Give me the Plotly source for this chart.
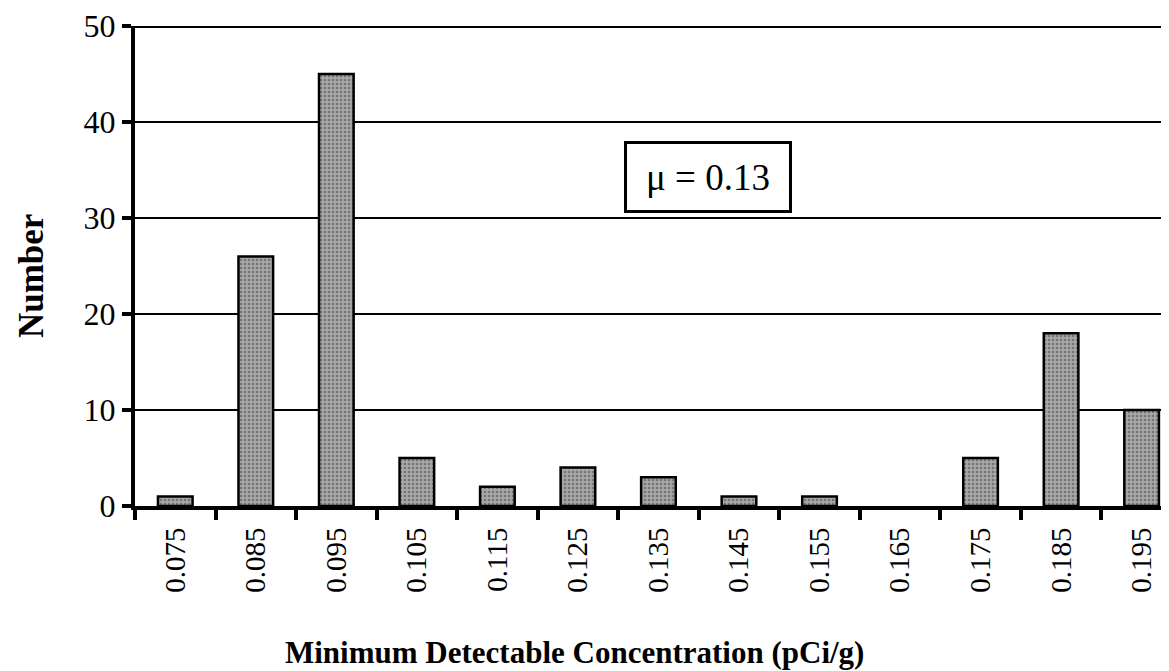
import plotly.graph_objects as go

categories = ["0.075", "0.085", "0.095", "0.105", "0.115", "0.125", "0.135",
              "0.145", "0.155", "0.165", "0.175", "0.185", "0.195"]
counts = [1, 26, 45, 5, 2, 4, 3, 1, 1, 0, 5, 18, 10]
y_ticks = [0, 10, 20, 30, 40, 50]
mean_label = "μ = 0.13"
x_title = "Minimum Detectable Concentration (pCi/g)"
y_title = "Number"

FONT = "Liberation Serif, Times New Roman, serif"

fig = go.Figure(go.Bar(
    x=categories, y=counts,
    marker=dict(
        color="#a0a0a0",
        line=dict(color="black", width=[0 if c == 0 else 2.5 for c in counts]),
        pattern=dict(shape=".", fgcolor="#404040", bgcolor="#a8a8a8",
                     size=4, solidity=0.35),
    ),
    width=0.43,
))

fig.update_layout(
    width=1161, height=663,
    margin=dict(l=127, r=0, t=18, b=165),
    paper_bgcolor="white", plot_bgcolor="white",
    showlegend=False,
    font=dict(family=FONT, color="black", size=29),
    xaxis=dict(
        type="category", categoryorder="array", categoryarray=categories,
        range=[-0.5, 12.34],
        tickson="boundaries", ticks="outside", ticklen=10, tickwidth=4,
        tickcolor="black", tickangle=-90, ticklabelstandoff=6,
        tickfont=dict(family=FONT, size=29),
        showline=True, linecolor="black", linewidth=4,
        showgrid=False, zeroline=False,
    ),
    yaxis=dict(
        range=[0, 50], tickvals=y_ticks,
        ticks="outside", ticklen=9, tickwidth=4, tickcolor="black",
        tickfont=dict(family=FONT, size=32),
        showline=True, linecolor="black", linewidth=4,
        showgrid=True, gridcolor="black", gridwidth=2,
        zeroline=False,
    ),
    shapes=[dict(type="line", xref="paper", yref="y", x0=0, x1=1, y0=50, y1=50,
                 line=dict(color="black", width=4))],
    annotations=[
        dict(x=6.62, y=34.3, xref="x", yref="y", text=mean_label, showarrow=False,
             font=dict(family=FONT, size=37), bordercolor="black", borderwidth=3,
             borderpad=8, bgcolor="white", width=146, height=50),
        dict(x=0.4255, y=0, xref="paper", yref="paper", yshift=-146,
             xanchor="center", yanchor="middle", showarrow=False,
             text=f"<b>{x_title}</b>", font=dict(family=FONT, size=31)),
        dict(x=0, y=0.479, xref="paper", yref="paper", xshift=-104,
             xanchor="center", yanchor="middle", showarrow=False, textangle=-90,
             text=f"<b>{y_title}</b>", font=dict(family=FONT, size=35)),
    ],
)

fig.write_html("out.html")
